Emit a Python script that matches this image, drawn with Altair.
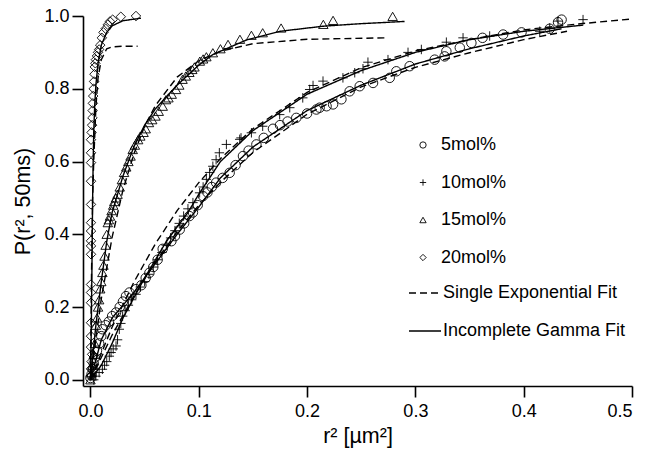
import altair as alt
import pandas as pd

# ---------------- data ----------------
series_names = ["5mol%", "10mol%", "15mol%", "20mol%"]

x_5 = [0.0, 0.001, 0.002, 0.003, 0.004, 0.006, 0.008, 0.010, 0.011, 0.014, 0.017, 0.020,
       0.0236, 0.027, 0.030, 0.0328, 0.036, 0.042, 0.047, 0.051, 0.0544, 0.058, 0.062,
       0.0667, 0.0747, 0.078, 0.0824, 0.0865, 0.0913, 0.0946, 0.099, 0.1039, 0.108, 0.112,
       0.116, 0.122, 0.1285, 0.134, 0.1408, 0.146, 0.1532, 0.160, 0.1685, 0.175, 0.182,
       0.190, 0.200, 0.2086, 0.2116, 0.218, 0.224, 0.2317, 0.2393, 0.2486, 0.2609, 0.2763,
       0.2824, 0.2947, 0.3178, 0.327, 0.3286, 0.341, 0.3517, 0.362, 0.381, 0.398, 0.424,
       0.4317, 0.435]
y_5 = [0.005, 0.015, 0.030, 0.045, 0.060, 0.080, 0.100, 0.120, 0.139, 0.150, 0.160, 0.175,
       0.185, 0.200, 0.215, 0.230, 0.240, 0.249, 0.260, 0.280, 0.294, 0.310, 0.330,
       0.360, 0.381, 0.395, 0.413, 0.430, 0.450, 0.460, 0.480, 0.505, 0.515, 0.530,
       0.542, 0.555, 0.569, 0.590, 0.615, 0.630, 0.647, 0.665, 0.690, 0.700, 0.710,
       0.720, 0.732, 0.743, 0.748, 0.752, 0.757, 0.771, 0.793, 0.807, 0.816, 0.830,
       0.848, 0.862, 0.880, 0.889, 0.903, 0.913, 0.926, 0.940, 0.949, 0.955, 0.965,
       0.983, 0.990]

x_10 = [0.003, 0.005, 0.008, 0.011, 0.013, 0.015, 0.0174, 0.019, 0.021, 0.0236, 0.025,
        0.0266, 0.028, 0.0297, 0.032, 0.035, 0.038, 0.042, 0.046, 0.050, 0.054, 0.058,
        0.062, 0.066, 0.070, 0.074, 0.078, 0.082, 0.086, 0.090, 0.0946, 0.1008, 0.104,
        0.107, 0.110, 0.113, 0.116, 0.119, 0.1255, 0.1378, 0.139, 0.1486, 0.159, 0.1747,
        0.184, 0.196, 0.2024, 0.2055, 0.2147, 0.2331, 0.244, 0.2516, 0.2562, 0.2747,
        0.2932, 0.3055, 0.3286, 0.344, 0.3686, 0.4148, 0.424, 0.4317, 0.4548]
y_10 = [0.000, 0.010, 0.020, 0.029, 0.040, 0.050, 0.065, 0.075, 0.085, 0.093, 0.110,
        0.139, 0.155, 0.175, 0.190, 0.205, 0.220, 0.235, 0.255, 0.270, 0.290, 0.310,
        0.330, 0.350, 0.370, 0.390, 0.410, 0.430, 0.450, 0.470, 0.487, 0.514, 0.530,
        0.551, 0.570, 0.587, 0.605, 0.624, 0.647, 0.661, 0.665, 0.679, 0.697, 0.729,
        0.748, 0.775, 0.798, 0.809, 0.821, 0.830, 0.844, 0.855, 0.873, 0.880,
        0.900, 0.908, 0.928, 0.940, 0.945, 0.958, 0.967, 0.986, 0.990]

x_15 = [0.0, 0.001, 0.002, 0.003, 0.004, 0.005, 0.006, 0.007, 0.008, 0.009, 0.010, 0.011,
        0.012, 0.013, 0.014, 0.015, 0.016, 0.017, 0.018, 0.0195, 0.021, 0.022, 0.0235,
        0.025, 0.027, 0.029, 0.031, 0.033, 0.035, 0.037, 0.039, 0.041, 0.044, 0.046,
        0.049, 0.051, 0.054, 0.057, 0.060, 0.063, 0.0667, 0.0697, 0.072, 0.075, 0.079,
        0.082, 0.085, 0.088, 0.0913, 0.094, 0.096, 0.101, 0.104, 0.107, 0.113, 0.120,
        0.127, 0.138, 0.1486, 0.159, 0.176, 0.215, 0.224, 0.279]
y_15 = [0.000, 0.020, 0.040, 0.070, 0.100, 0.150, 0.170, 0.200, 0.220, 0.250, 0.270, 0.295,
        0.315, 0.340, 0.370, 0.400, 0.432, 0.440, 0.450, 0.465, 0.480, 0.490, 0.500,
        0.510, 0.530, 0.550, 0.570, 0.585, 0.600, 0.615, 0.633, 0.645, 0.660, 0.670,
        0.680, 0.690, 0.707, 0.715, 0.725, 0.738, 0.752, 0.770, 0.775, 0.785, 0.798,
        0.810, 0.826, 0.835, 0.845, 0.853, 0.860, 0.876, 0.882, 0.888, 0.899, 0.910,
        0.922, 0.936, 0.947, 0.954, 0.967, 0.977, 0.988, 0.999]

x_20 = [0.0, 0.0005, 0.001, 0.0015, 0.0005, 0.0005, 0.0005, 0.0005, 0.0005, 0.0005,
        0.0005, 0.0005, 0.0005, 0.0005, 0.0005, 0.0005, 0.0005, 0.0005, 0.0005, 0.0005,
        0.001, 0.0015, 0.0018, 0.002, 0.0022, 0.0025, 0.003, 0.0033, 0.0037, 0.004, 0.0045,
        0.005, 0.006, 0.007, 0.008, 0.009, 0.0105, 0.012, 0.014, 0.016, 0.018, 0.0205,
        0.028, 0.042]
y_20 = [0.010, 0.030, 0.050, 0.070, 0.090, 0.120, 0.157, 0.212, 0.240, 0.262, 0.345,
        0.368, 0.382, 0.409, 0.432, 0.482, 0.546, 0.597, 0.624, 0.660,
        0.680, 0.700, 0.720, 0.740, 0.760, 0.780, 0.800, 0.820, 0.840, 0.860, 0.870,
        0.880, 0.890, 0.900, 0.908, 0.920, 0.940, 0.955, 0.965, 0.976, 0.985, 0.990,
        0.998, 1.000]

# fitted curves
exp5_x = [0.0, 0.02, 0.04, 0.06, 0.08, 0.10, 0.12, 0.15, 0.20, 0.25, 0.30, 0.35, 0.40, 0.44]
exp5_y = [0.0, 0.123, 0.230, 0.324, 0.407, 0.480, 0.543, 0.625, 0.730, 0.805, 0.859, 0.899, 0.935, 0.958]
gam5_x = [0.0, 0.01, 0.02, 0.04, 0.06, 0.08, 0.10, 0.12, 0.15, 0.20, 0.25, 0.30, 0.35, 0.40, 0.435]
gam5_y = [0.0, 0.110, 0.170, 0.240, 0.320, 0.400, 0.475, 0.555, 0.640, 0.740, 0.810, 0.868, 0.910, 0.945, 0.965]

exp10_x = [0.0, 0.02, 0.04, 0.06, 0.08, 0.10, 0.12, 0.15, 0.20, 0.25, 0.30, 0.35, 0.40, 0.45, 0.50]
exp10_y = [0.0, 0.145, 0.268, 0.374, 0.465, 0.542, 0.608, 0.690, 0.790, 0.858, 0.904, 0.935, 0.962, 0.978, 0.992]
gam10_x = [0.0, 0.01, 0.02, 0.03, 0.05, 0.07, 0.09, 0.10, 0.12, 0.15, 0.20, 0.25, 0.30, 0.35, 0.40, 0.455]
gam10_y = [0.0, 0.040, 0.100, 0.170, 0.280, 0.380, 0.460, 0.510, 0.600, 0.685, 0.785, 0.850, 0.900, 0.935, 0.958, 0.975]

exp15_x = [0.0, 0.01, 0.02, 0.03, 0.04, 0.05, 0.06, 0.08, 0.10, 0.12, 0.15, 0.20, 0.273]
exp15_y = [0.0, 0.223, 0.392, 0.522, 0.620, 0.697, 0.754, 0.832, 0.877, 0.903, 0.924, 0.936, 0.940]
gam15_x = [0.0, 0.005, 0.01, 0.015, 0.02, 0.03, 0.04, 0.05, 0.06, 0.08, 0.10, 0.113, 0.144, 0.175, 0.215, 0.25, 0.29]
gam15_y = [0.0, 0.150, 0.270, 0.380, 0.460, 0.560, 0.640, 0.700, 0.745, 0.810, 0.865, 0.894, 0.934, 0.958, 0.972, 0.979, 0.985]

exp20_x = [0.0, 0.001, 0.002, 0.003, 0.005, 0.007, 0.010, 0.015, 0.020, 0.030, 0.0435]
exp20_y = [0.0, 0.300, 0.500, 0.600, 0.750, 0.830, 0.880, 0.910, 0.915, 0.917, 0.917]
gam20_x = [0.0, 0.0008, 0.0015, 0.002, 0.0025, 0.003, 0.004, 0.005, 0.007, 0.010, 0.015, 0.020, 0.030, 0.0466]
gam20_y = [0.0, 0.150, 0.350, 0.500, 0.600, 0.680, 0.760, 0.810, 0.870, 0.920, 0.955, 0.973, 0.987, 0.994]

fit_names = ["Single Exponential Fit", "Incomplete Gamma Fit"]
x_ticks = [0.0, 0.1, 0.2, 0.3, 0.4, 0.5]
y_ticks = [0.0, 0.2, 0.4, 0.6, 0.8, 1.0]

# ---------------- tables ----------------
pts = []
for name, xs, ys in zip(series_names, [x_5, x_10, x_15, x_20], [y_5, y_10, y_15, y_20]):
    for a, b in zip(xs, ys):
        pts.append({"series": name, "x": a, "y": b})
pts = pd.DataFrame(pts)

curves = [
    ("5 exp", fit_names[0], exp5_x, exp5_y), ("5 gam", fit_names[1], gam5_x, gam5_y),
    ("10 exp", fit_names[0], exp10_x, exp10_y), ("10 gam", fit_names[1], gam10_x, gam10_y),
    ("15 exp", fit_names[0], exp15_x, exp15_y), ("15 gam", fit_names[1], gam15_x, gam15_y),
    ("20 exp", fit_names[0], exp20_x, exp20_y), ("20 gam", fit_names[1], gam20_x, gam20_y),
]
lines = []
for cid, fit, xs, ys in curves:
    for a, b in zip(xs, ys):
        lines.append({"curve": cid, "fit": fit, "x": a, "y": b})
lines = pd.DataFrame(lines)

FONT = "Liberation Sans"
xscale = alt.Scale(domain=[-0.0069, 0.5], nice=False, zero=False)
yscale = alt.Scale(domain=[-0.017, 1.0], nice=False, zero=False)

xaxis = alt.Axis(values=x_ticks, format=".1f", title="r² [µm²]", grid=False,
                 labelPadding=5, titlePadding=5)
yaxis = alt.Axis(values=y_ticks, format=".1f", title="P(r², 50ms)", grid=False,
                 labelPadding=3, titlePadding=9)

line_layer = alt.Chart(lines).mark_line(color="black", strokeWidth=1.4).encode(
    x=alt.X("x:Q", scale=xscale, axis=xaxis),
    y=alt.Y("y:Q", scale=yscale, axis=yaxis),
    detail="curve:N",
    strokeDash=alt.StrokeDash(
        "fit:N",
        scale=alt.Scale(domain=fit_names, range=[[7, 4], [1, 0]]),
        legend=alt.Legend(
            title=None, orient="none", legendX=325, legendY=260,
            symbolType="stroke", symbolSize=1024, symbolStrokeWidth=1.4,
            symbolStrokeColor="black", labelOffset=1, rowPadding=12, labelLimit=0,
            labelFontSize=18, labelFont=FONT, labelColor="black",
        ),
    ),
)

point_layer = alt.Chart(pts).mark_point(filled=False, color="black", strokeWidth=0.9, opacity=1).encode(
    x=alt.X("x:Q", scale=xscale),
    y=alt.Y("y:Q", scale=yscale),
    shape=alt.Shape(
        "series:N",
        scale=alt.Scale(domain=series_names,
                        range=["circle", "M-1,0L1,0M0,-1L0,1", "triangle-up", "diamond"]),
        legend=alt.Legend(
            title=None, orient="none", legendX=331, legendY=120,
            symbolSize=40, symbolStrokeWidth=0.9, symbolStrokeColor="black",
            symbolFillColor="transparent", labelOffset=9, rowPadding=19.5, labelLimit=0,
            labelFontSize=18, labelFont=FONT, labelColor="black",
        ),
    ),
    size=alt.Size(
        "series:N",
        scale=alt.Scale(domain=series_names, range=[90, 90, 80, 50]),
        legend=None,
    ),
)

chart = alt.layer(line_layer, point_layer).resolve_legend(
    shape="independent", strokeDash="independent"
).properties(
    width=549, height=370,
    autosize=alt.AutoSizeParams(type="none"),
    padding={"left": 83, "top": 16, "right": 15, "bottom": 67},
).configure_view(stroke=None).configure_axis(
    domainColor="black", domainWidth=1.6, tickColor="black", tickWidth=1.6, tickSize=11,
    labelFont=FONT, labelFontSize=18, labelColor="black",
    titleFont=FONT, titleFontSize=21.5, titleFontWeight="normal", titleColor="black",
).configure_axisY(labelAngle=0)

chart.save("out.html", embed_options={"renderer": "svg", "actions": False})
